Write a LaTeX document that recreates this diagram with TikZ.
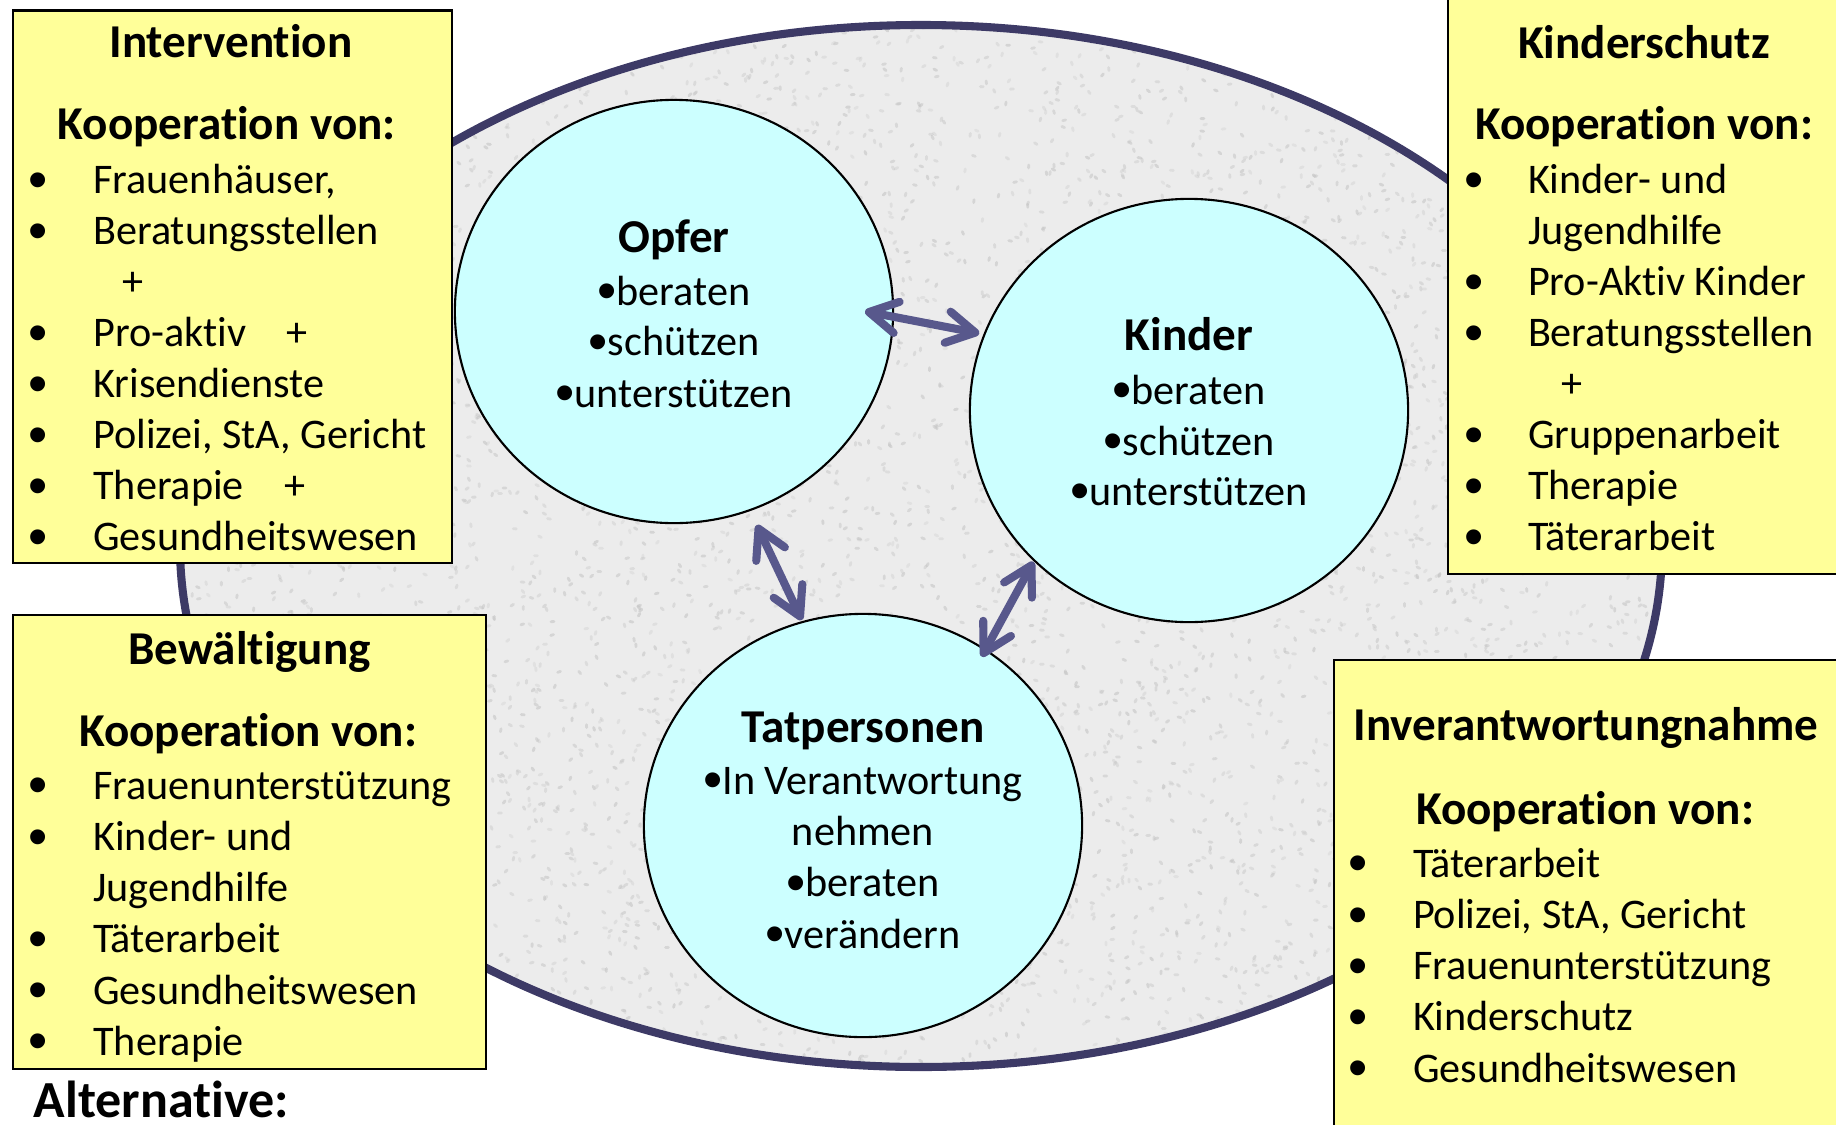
\documentclass[tikz,border=0pt]{standalone}
\usepackage{fontspec}
\setmainfont{Carlito}[Ligatures=NoCommon]
\newfontfamily\bulletfont{Liberation Sans}
\usetikzlibrary{arrows.meta,shapes.geometric,calc}
\definecolor{boxyellow}{RGB}{255,255,153}
\definecolor{circcyan}{RGB}{204,255,255}
\definecolor{ringblue}{RGB}{61,58,102}
\definecolor{arrowblue}{RGB}{88,88,140}
\definecolor{granite}{RGB}{236,236,236}
\definecolor{speck}{RGB}{196,196,196}
\newcommand\bul{\raisebox{-1.3pt}{\fontsize{15.6}{15}\bulletfont •}}
\tikzset{
  reg/.style={inner sep=0pt, outer sep=0pt, yshift=-0.023cm, font=\fontsize{12}{14.5}\selectfont},
  ttl/.style={inner sep=0pt, outer sep=0pt, yshift=-0.023cm, anchor=base, font=\fontsize{13.4}{16}\selectfont\bfseries},
  ybox/.style={draw=black, line width=0.6pt, fill=boxyellow, anchor=north west, inner sep=0pt},
  cnode/.style={ellipse, draw=black, line width=0.6pt, fill=circcyan, minimum width=4.38cm, minimum height=4.23cm, inner sep=0pt},
  ringstyle/.style={ellipse, line width=2.3pt, minimum width=14.82cm, minimum height=10.42cm, inner sep=0pt},
  biarrow/.style={draw=arrowblue, line width=2.3pt, line cap=round,
    arrows={Straight Barb[round,length=8pt,width=9pt]-Straight Barb[round,length=8pt,width=9pt]}}
}
\newcommand\ttlnode[4]{\node[ttl] (#1) at (#2,-#3) {#4};}
\newcommand\bitem[5]{\node[reg,anchor=base] (#1b) at (#2,-#4) {\bul};\node[reg,anchor=base west] (#1) at (#3,-#4) {#5};}
\newcommand\pitem[4]{\node[reg,anchor=base west] (#1) at (#2,-#3) {#4};}
\newcommand\citem[4]{\node[reg,anchor=base] (#1) at (#2,-#3) {#4};}
\begin{document}
\begin{tikzpicture}[x=0.01cm,y=0.01cm]
\useasboundingbox (0,0) rectangle (1836,-1124);
\clip (0,0) rectangle (1836,-1124);
% big ring with granite texture
\node[ringstyle, fill=granite] (ring) at (921,-546) {};
\begin{scope}
  \clip (921,-546) ellipse [x radius=741, y radius=521];
  \pgfmathsetseed{7}
  \foreach \k in {1,...,6000}{
    \pgfmathsetmacro\px{921+741*rand}
    \pgfmathsetmacro\py{-546+521*rand}
    \pgfmathsetmacro\pa{180*rand}
    \pgfmathsetmacro\po{0.25+0.35*rnd}
    \draw[speck, line width=0.8pt, line cap=round, opacity=\po] (\px,\py) -- ++(\pa:3);
  }
\end{scope}
\draw[ringblue, line width=2.3pt] (ring.center) ellipse [x radius=741, y radius=521];
% circles
\node[cnode] (opfer) at (674,-311.5) {};
\node[cnode] (kinder) at (1189,-410.5) {};
\node[cnode] (tat) at (863,-825.5) {};
% circle texts
\ttlnode{op0}{674}{250}{Opfer}
\citem{op1}{674}{302.7}{\bul beraten}
\citem{op2}{674}{353.5}{\bul schützen}
\citem{op3}{674}{405}{\bul unterstützen}
\ttlnode{ki0}{1189}{348}{Kinder}
\citem{ki1}{1189}{401.7}{\bul beraten}
\citem{ki2}{1189}{452.7}{\bul schützen}
\citem{ki3}{1189}{503}{\bul unterstützen}
\ttlnode{ta0}{863}{740}{Tatpersonen}
\citem{ta1}{863}{792}{\bul In Verantwortung}
\citem{ta2}{863}{843}{nehmen}
\citem{ta3}{863}{894.5}{\bul beraten}
\citem{ta4}{863}{946}{\bul verändern}
% arrows
\draw[biarrow] ($(opfer.center)+(0.06:191)$) -- ($(kinder.center)+(159.8:223.5)$);
\draw[biarrow] ($(opfer.center)+(-68.8:229)$) -- ($(tat.center)+(106.6:214.4)$);
\draw[biarrow] ($(kinder.center)+(-135.8:217)$) -- ($(tat.center)+(54.9:206.4)$);
% Intervention box
\node[ybox, minimum width=4.391cm, minimum height=5.526cm] (intbox) at (11.7,-9.4) {};
\ttlnode{it}{231}{55.5}{Intervention}
\ttlnode{ik}{226.7}{137.6}{Kooperation von:}
\bitem{i1}{38.3}{93.3}{191.6}{Frauenhäuser,}
\bitem{i2}{38.3}{93.3}{242.6}{Beratungsstellen}
\citem{i3}{133}{293.6}{+}
\bitem{i4}{38.3}{93.3}{344.6}{Pro-aktiv\hspace{11.4pt}+}
\bitem{i5}{38.3}{93.3}{395.6}{Krisendienste}
\bitem{i6}{38.3}{93.3}{446.6}{Polizei, StA, Gericht}
\bitem{i7}{38.3}{93.3}{497.6}{Therapie\hspace{11.4pt}+}
\bitem{i8}{38.3}{93.3}{548.6}{Gesundheitswesen}
% Kinderschutz box
\node[ybox, minimum width=4.03cm, minimum height=5.926cm] (ksbox) at (1447,20) {};
\ttlnode{kt}{1644}{56}{Kinderschutz}
\ttlnode{kk}{1644}{137.6}{Kooperation von:}
\bitem{k1}{1474}{1528}{191.6}{Kinder- und}
\pitem{k2}{1528}{242.6}{Jugendhilfe}
\bitem{k3}{1474}{1528}{293.6}{Pro-Aktiv Kinder}
\bitem{k4}{1474}{1528}{344.6}{Beratungsstellen}
\citem{k5}{1571.7}{395.6}{+}
\bitem{k6}{1474}{1528}{446.6}{Gruppenarbeit}
\bitem{k7}{1474}{1528}{497.6}{Therapie}
\bitem{k8}{1474}{1528}{548.6}{Täterarbeit}
% Bewaeltigung box
\node[ybox, minimum width=4.731cm, minimum height=4.543cm] (bwbox) at (11.7,-613.6) {};
\ttlnode{bt}{249.5}{662}{Bewältigung}
\ttlnode{bk}{248}{744.5}{Kooperation von:}
\bitem{b1}{38.3}{93.3}{797}{Frauenunterstützung}
\bitem{b2}{38.3}{93.3}{848.2}{Kinder- und}
\pitem{b3}{93.3}{899.4}{Jugendhilfe}
\bitem{b4}{38.3}{93.3}{950.6}{Täterarbeit}
\bitem{b5}{38.3}{93.3}{1001.8}{Gesundheitswesen}
\bitem{b6}{38.3}{93.3}{1053}{Therapie}
% Inverantwortungnahme box
\node[ybox, minimum width=5.175cm, minimum height=4.81cm] (ivbox) at (1332.5,-659) {};
\ttlnode{vt}{1586}{738}{Inverantwortungnahme}
\ttlnode{vk}{1585}{821.7}{Kooperation von:}
\bitem{v1}{1358}{1413}{875}{Täterarbeit}
\bitem{v2}{1358}{1413}{926.2}{Polizei, StA, Gericht}
\bitem{v3}{1358}{1413}{977.4}{Frauenunterstützung}
\bitem{v4}{1358}{1413}{1028.6}{Kinderschutz}
\bitem{v5}{1358}{1413}{1079.8}{Gesundheitswesen}
% Alternative
\node[inner sep=0pt, anchor=base west, font=\fontsize{14.8}{18}\selectfont\bfseries] (alt) at (33,-1117) {Alternative:};
\end{tikzpicture}
\end{document}
